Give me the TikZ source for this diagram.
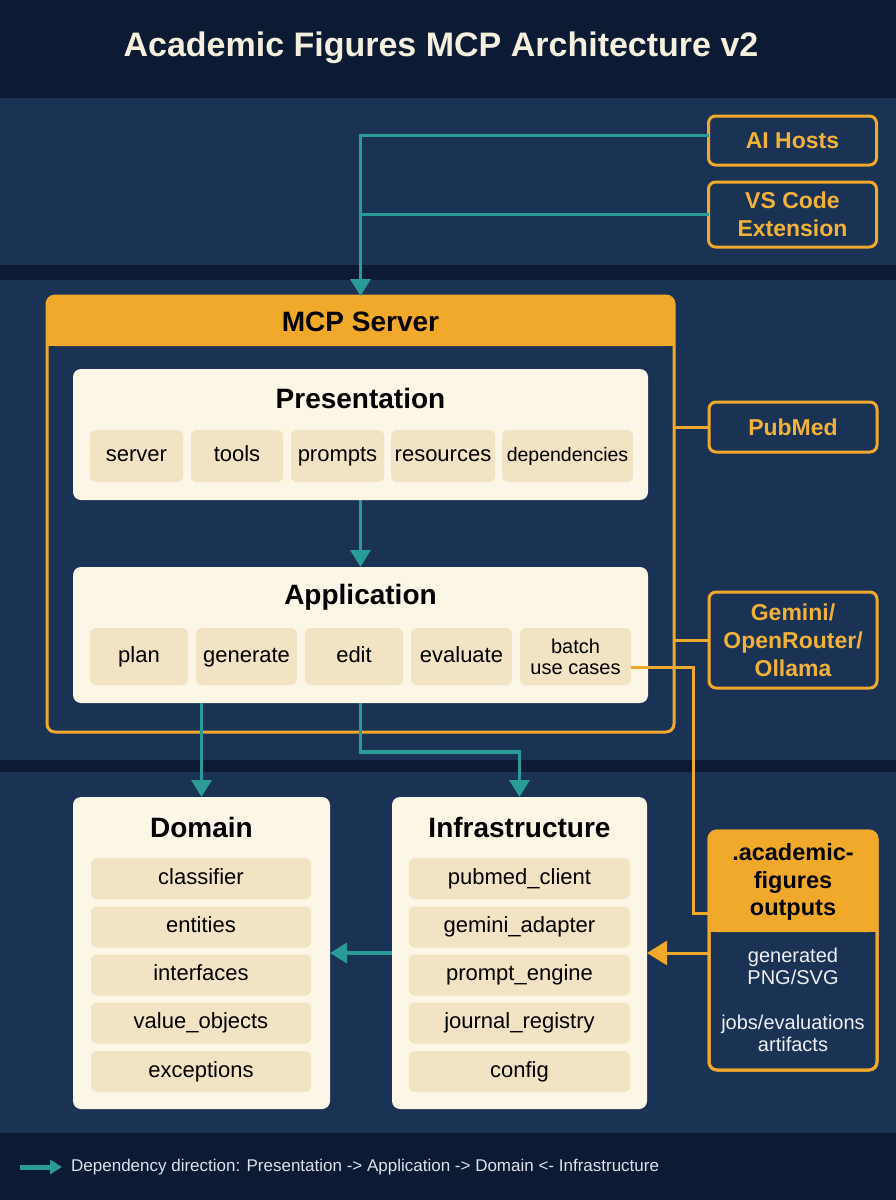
\documentclass[tikz,border=0pt]{standalone}
\usepackage{fontspec}
\setmainfont{Liberation Sans}
\usetikzlibrary{arrows.meta}
\definecolor{navydark}{HTML}{0C1A33}
\definecolor{band}{HTML}{1A3254}
\definecolor{orng}{HTML}{F0A92B}
\definecolor{tealc}{HTML}{2A9B97}
\definecolor{cream}{HTML}{FCF6E6}
\definecolor{tanc}{HTML}{F1E3C3}
\definecolor{titletxt}{HTML}{F5F0DE}
\definecolor{orngtxt}{HTML}{F2B13A}
\definecolor{bodytxt}{HTML}{EEF0F2}
\definecolor{foottxt}{HTML}{DDE2EA}
\begin{document}
\begin{tikzpicture}[x=1pt,y=-1pt,
  layerbox/.style={fill=cream, rounded corners=8pt, inner sep=0pt, outer sep=0pt},
  layertitle/.style={text=black, font=\bfseries\fontsize{28}{32}\selectfont, inner sep=0pt},
  item/.style={fill=tanc, rounded corners=6pt, inner sep=0pt, outer sep=0pt, align=center, text=black, font=\fontsize{22}{21}\selectfont},
  oneline/.style={text height=16pt, text depth=4.6pt},
  extbox/.style={draw=orng, line width=3pt, fill=band, rounded corners=7pt, text=orngtxt, font=\bfseries\fontsize{23}{28}\selectfont, align=center, inner sep=0pt, outer sep=0pt, minimum width=168pt},
  dep/.style={draw=tealc, line width=3.5pt, -{Triangle[width=20pt,length=17pt]}},
  link/.style={draw=orng, line width=3pt},
]
\useasboundingbox (0,0) rectangle (896,1200);
% backgrounds
\fill[navydark] (0,0) rectangle (896,1200);
\fill[band] (0,98) rectangle (896,265);
\fill[band] (0,280) rectangle (896,760);
\fill[band] (0,772) rectangle (896,1133);

% title
\node[text=titletxt, font=\bfseries\fontsize{34}{40}\selectfont] (title) at (441,48) {Academic Figures MCP Architecture v2};

% external hosts
\node[extbox, minimum height=49pt] (aihosts) at (792.5,140.5) {AI Hosts};
\node[extbox, minimum height=65pt] (vscode) at (792.5,214.5) {VS Code\\Extension};

% MCP server container
\node[draw=orng, line width=3pt, rounded corners=8pt, minimum width=627pt, minimum height=436pt, inner sep=0pt, outer sep=0pt] (mcp) at (360.5,514) {};
\fill[orng, rounded corners=8pt] (mcp.north west) rectangle ([yshift=-50pt]mcp.north east);
\fill[orng] ([yshift=-30pt]mcp.north west) rectangle ([yshift=-50pt]mcp.north east);
\node[text=black, font=\bfseries\fontsize{28}{32}\selectfont] (mcptitle) at (360.5,322) {MCP Server};

% Presentation
\node[layerbox, minimum width=575pt, minimum height=131pt] (pres) at (360.5,434.5) {};
\node[layertitle] (prestitle) at (360.5,398) {Presentation};
\node[item, oneline, minimum width=93pt, minimum height=52pt] (server) at (136.5,456) {server};
\node[item, oneline, minimum width=92pt, minimum height=52pt] (tools) at (237,456) {tools};
\node[item, oneline, minimum width=93pt, minimum height=52pt] (prompts) at (337.5,456) {prompts};
\node[item, oneline, minimum width=104pt, minimum height=52pt] (resources) at (443,456) {resources};
\node[item, oneline, minimum width=131pt, minimum height=52pt, font=\fontsize{19.5}{21}\selectfont] (dependencies) at (567.5,456) {dependencies};

% Application
\node[layerbox, minimum width=575pt, minimum height=136pt] (app) at (360.5,635) {};
\node[layertitle] (apptitle) at (360.5,597) {Application};
\node[item, oneline, minimum width=98pt, minimum height=57pt] (plan) at (139,656.5) {plan};
\node[item, oneline, minimum width=101pt, minimum height=57pt] (generate) at (246.5,656.5) {generate};
\node[item, oneline, minimum width=98pt, minimum height=57pt] (edit) at (354,656.5) {edit};
\node[item, oneline, minimum width=101pt, minimum height=57pt] (evaluate) at (461.5,656.5) {evaluate};
\node[item, minimum width=111pt, minimum height=57pt, font=\fontsize{20}{21}\selectfont] (batch) at (575.5,656.5) {batch\\use cases};

% external services
\node[extbox, minimum height=50pt] (pubmed) at (793,427) {PubMed};
\node[extbox, minimum height=96pt] (gemini) at (793,640) {Gemini/\\OpenRouter/\\Ollama};

% outputs
\node[draw=orng, line width=3pt, fill=band, rounded corners=8pt, minimum width=168pt, minimum height=239pt, inner sep=0pt, outer sep=0pt] (outputs) at (793,950.5) {};
\fill[orng, rounded corners=8pt] (outputs.north west) rectangle ([yshift=-101pt]outputs.north east);
\fill[orng] ([yshift=-80pt]outputs.north west) rectangle ([yshift=-101pt]outputs.north east);
\draw[orng, line width=3pt, rounded corners=8pt] (outputs.north west) rectangle (outputs.south east);
\node[text=black, font=\bfseries\fontsize{23.5}{27.5}\selectfont, align=center] (outtitle) at (793,882) {.academic-\\figures\\outputs};
\node[text=bodytxt, font=\fontsize{20}{22}\selectfont, align=center] (outa) at (793,966) {generated\\PNG/SVG};
\node[text=bodytxt, font=\fontsize{20}{22}\selectfont, align=center] (outb) at (793,1033) {jobs/evaluations\\artifacts};

% Domain
\node[layerbox, minimum width=257pt, minimum height=312pt] (domain) at (201.5,953) {};
\node[layertitle] (domtitle) at (201.5,827) {Domain};
\node[item, oneline, minimum width=220pt, minimum height=41pt] (classifier) at (201,878.5) {classifier};
\node[item, oneline, minimum width=220pt, minimum height=41pt] (entities) at (201,927) {entities};
\node[item, oneline, minimum width=220pt, minimum height=41pt] (interfaces) at (201,975) {interfaces};
\node[item, oneline, minimum width=220pt, minimum height=41pt] (valueobj) at (201,1023) {value\_objects};
\node[item, oneline, minimum width=220pt, minimum height=41pt] (exceptions) at (201,1071.5) {exceptions};

% Infrastructure
\node[layerbox, minimum width=255pt, minimum height=312pt] (infra) at (519.5,953) {};
\node[layertitle] (inftitle) at (519.5,827) {Infrastructure};
\node[item, oneline, minimum width=221pt, minimum height=41pt] (pubclient) at (519.5,878.5) {pubmed\_client};
\node[item, oneline, minimum width=221pt, minimum height=41pt] (gemadapter) at (519.5,927) {gemini\_adapter};
\node[item, oneline, minimum width=221pt, minimum height=41pt] (promptengine) at (519.5,975) {prompt\_engine};
\node[item, oneline, minimum width=221pt, minimum height=41pt] (journal) at (519.5,1023) {journal\_registry};
\node[item, oneline, minimum width=221pt, minimum height=41pt] (config) at (519.5,1071.5) {config};

% teal connectors
\draw[dep] ([yshift=5pt]aihosts.west) -| (mcp.north);
\draw[draw=tealc, line width=3.5pt] (vscode.west) -- (vscode.west -| mcp.north);
\draw[dep] (pres.south) -- (app.north);
\draw[dep] (app.south -| domain.north) -- (domain.north);
\draw[dep] (app.south) -- ++(0,49) -| (infra.north);
\draw[dep] (infra.west) -- (domain.east);

% orange connectors
\draw[link] (pubmed.west) -- (pubmed.west -| mcp.east);
\draw[link] (gemini.west) -- (gemini.west -| mcp.east);
\draw[link] ([yshift=-11pt]batch.east) -- ++(62,0) |- ([yshift=37.5pt]outputs.west);
\draw[link, -{Triangle[width=24pt,length=20pt]}] (infra.east -| outputs.west) -- (infra.east);

% footer legend
\coordinate (fa) at (20,1167);
\coordinate (fb) at (62,1167);
\draw[tealc, line width=5pt, -{Triangle[width=14pt,length=12pt]}] (fa) -- (fb);
\node[anchor=west, text=foottxt, font=\fontsize{17}{20}\selectfont, inner sep=0pt] (foot) at (71,1167) {Dependency direction: Presentation -> Application -> Domain <- Infrastructure};
\end{tikzpicture}
\end{document}
